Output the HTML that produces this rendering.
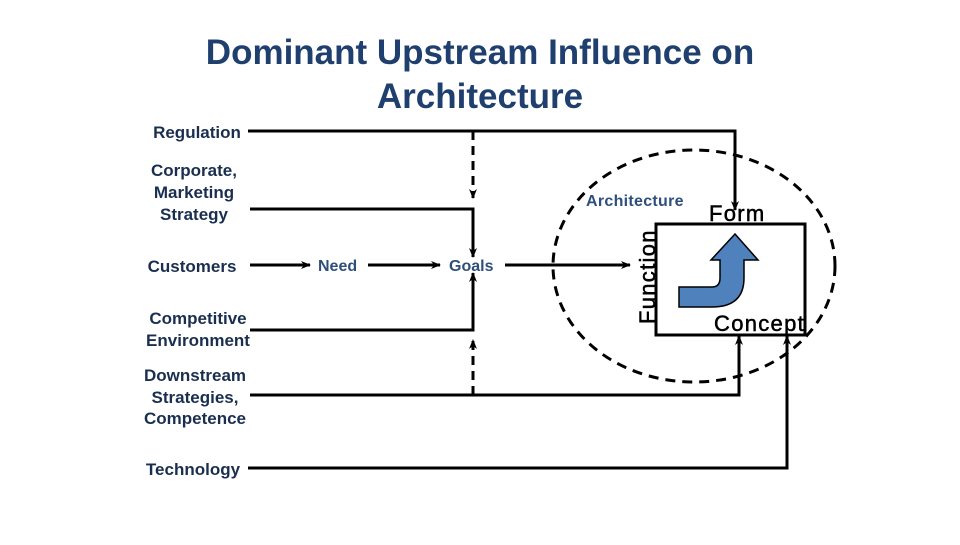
<!DOCTYPE html>
<html><head><meta charset="utf-8"><style>
body{margin:0;width:960px;height:540px;background:#fff;overflow:hidden;font-family:"Liberation Sans",sans-serif}
</style></head><body>
<svg width="960" height="540" viewBox="0 0 960 540" xmlns="http://www.w3.org/2000/svg" font-family="Liberation Sans, sans-serif">
<defs><marker id="a" markerWidth="10" markerHeight="8" refX="9" refY="4" orient="auto" markerUnits="userSpaceOnUse"><path d="M0,0 L10,4 L0,8 L3,4Z" fill="#000"/></marker></defs>
<text x="480" y="64" font-size="35" font-weight="bold" fill="#1F3F6E" text-anchor="middle">Dominant Upstream Influence on</text>
<text x="480" y="108" font-size="35" font-weight="bold" fill="#1F3F6E" text-anchor="middle">Architecture</text>
<g font-size="17" font-weight="bold" fill="#1a2f4f" text-anchor="middle">
<text x="197" y="138">Regulation</text>
<text x="194" y="176">Corporate,</text><text x="194" y="198">Marketing</text><text x="194" y="220">Strategy</text>
<text x="192" y="272">Customers</text>
<text x="198" y="324">Competitive</text><text x="198" y="346">Environment</text>
<text x="195" y="381">Downstream</text><text x="195" y="403">Strategies,</text><text x="195" y="424">Competence</text>
<text x="193" y="475">Technology</text>
</g>
<g font-size="16" font-weight="bold" fill="#2E4F7C">
<text x="318" y="271">Need</text><text x="449" y="271">Goals</text><text x="586" y="206" letter-spacing="0.3">Architecture</text>
</g>
<g stroke="#000" stroke-width="3" fill="none">
<polyline points="248,131 735,131 735,210" marker-end="url(#a)"/>
<line x1="473" y1="131" x2="473" y2="198" stroke-dasharray="9,6" marker-end="url(#a)"/>
<polyline points="250,209 473,209 473,257" marker-end="url(#a)"/>
<line x1="250" y1="265" x2="310" y2="265" marker-end="url(#a)"/>
<line x1="368" y1="265" x2="440" y2="265" marker-end="url(#a)"/>
<line x1="505" y1="265" x2="630" y2="265" marker-end="url(#a)"/>
<polyline points="250,330 473,330 473,273" marker-end="url(#a)"/>
<line x1="473" y1="395" x2="473" y2="340" stroke-dasharray="9,6" marker-end="url(#a)"/>
<polyline points="250,395 739,395 739,336" marker-end="url(#a)"/>
<polyline points="248,468 787,468 787,336" marker-end="url(#a)"/>
<ellipse cx="694" cy="266" rx="141" ry="116" stroke-dasharray="10,7"/>
<rect x="656" y="224" width="149" height="111" fill="#fff"/>
</g>
<path d="M679,287 L712,287 Q720,287 720,278 L720,260 L711,260 L735,234 L758,260 L744,260 L744,278 Q744,307 712,307 L679,307Z" fill="#4F81BD" stroke="#000" stroke-width="1.5"/>
<g fill="#000" stroke="#000" stroke-width="0.5" font-size="22">
<text letter-spacing="1.3" transform="translate(655,324) rotate(-90)">Function</text>
<text x="709" y="221" letter-spacing="1.3">Form</text>
<text x="714" y="331" letter-spacing="1.3">Concept</text>
</g>
</svg>
</body></html>
